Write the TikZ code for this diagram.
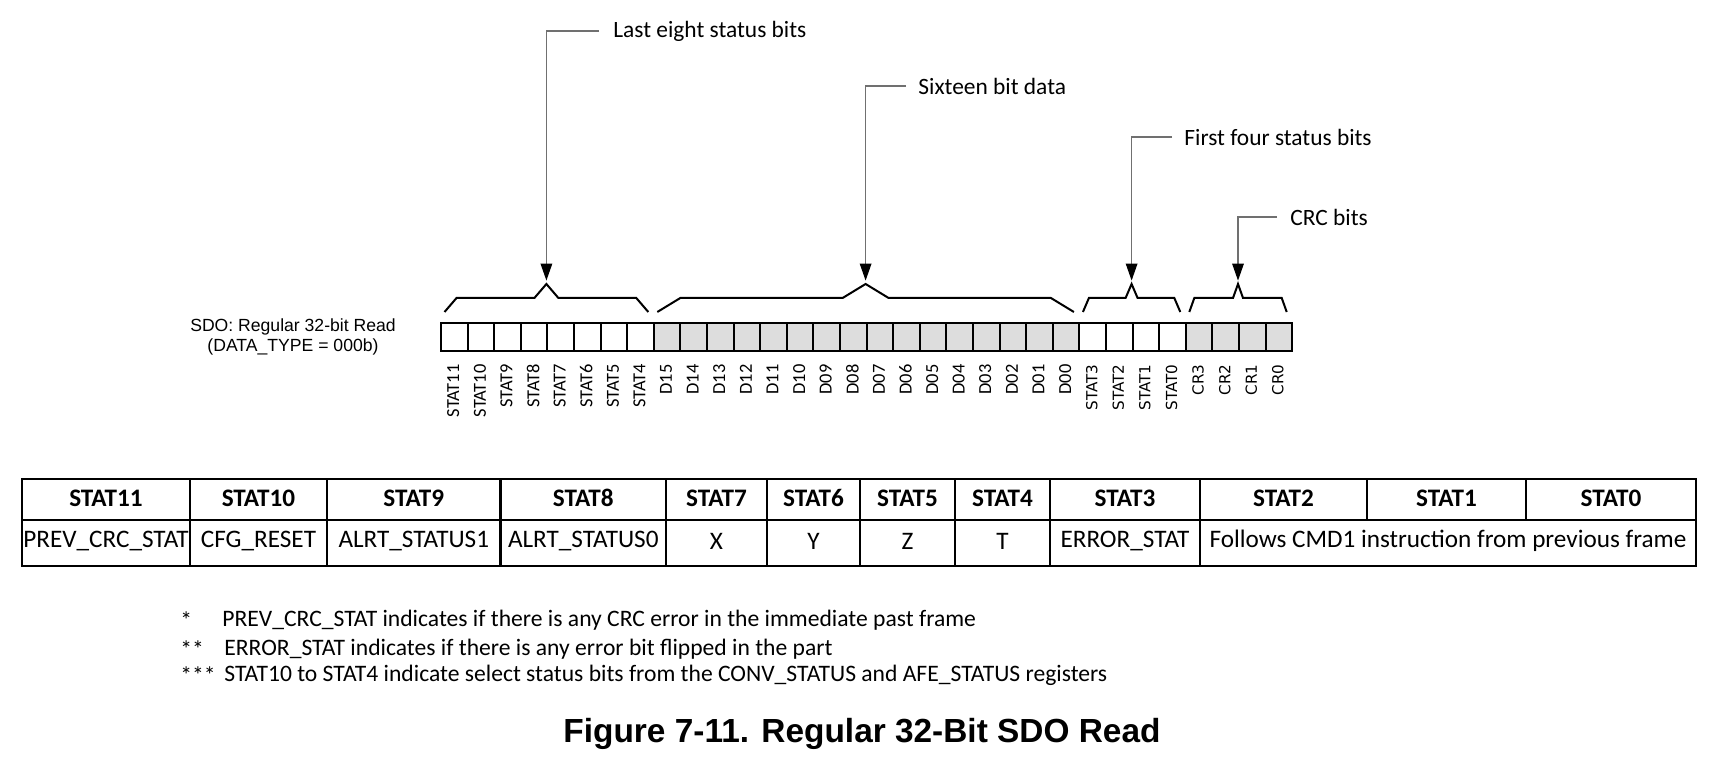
\documentclass[tikz,border=0pt]{standalone}
\usepackage{fontspec}
\setmainfont{Carlito}
\newfontfamily\arialfont{Liberation Sans}
\newfontfamily\dejafont{DejaVu Sans}
\usetikzlibrary{arrows.meta}
\usetikzlibrary{calc}

\definecolor{bitgray}{HTML}{DDDDDD}
\definecolor{leadgray}{HTML}{707070}

\tikzset{
  bitcell/.style={draw=black, line width=1pt, minimum width=13.3pt, minimum height=13.9pt, inner sep=0pt, anchor=north west},
  bitlbl/.style={rotate=90, anchor=east, inner sep=0pt, font=\fontsize{9.2}{10}\selectfont},
  bracepath/.style={draw=black, line width=1pt},
  leader/.style={draw=leadgray, line width=0.6pt, -{Triangle[length=8.5pt, width=5.8pt, black]}},
  leadtxt/.style={anchor=west, inner sep=0pt, font=\fontsize{11.7}{14}\selectfont},
  tabcell/.style={draw=black, line width=1.2pt},
  tabtxt/.style={inner sep=0pt, font=\fontsize{12.6}{14}\selectfont},
  notetxt/.style={anchor=west, inner sep=0pt, font=\fontsize{11.8}{14}\selectfont}
}

% bracket over a group of bits: left x, right x, slant, name of the peak
\newcommand{\grpbrace}[4]{%
  \draw[bracepath] (#1+4.5,312) -- (#1+4.5+#3,298) -- ({(#1+#2)/2-#3},298)
    -- ({(#1+#2)/2},284) coordinate (#4) -- ({(#1+#2)/2+#3},298)
    -- (#2-4.5-#3,298) -- (#2-4.5,312);
}

\begin{document}
\begin{tikzpicture}[x=0.5pt, y=-0.5pt]
  \useasboundingbox (0,0) rectangle (1732,763);

  % the 32 bits
  \foreach \t [count=\i from 0] in {STAT11,STAT10,STAT9,STAT8,STAT7,STAT6,STAT5,STAT4,
      D15,D14,D13,D12,D11,D10,D09,D08,D07,D06,D05,D04,D03,D02,D01,D00,
      STAT3,STAT2,STAT1,STAT0,CR3,CR2,CR1,CR0}{
    \pgfmathsetmacro{\shade}{(\i>7 && \i<24) || \i>27 ? 1 : 0}
    \ifdim\shade pt>0.5pt
      \node[bitcell, fill=bitgray] (c\i) at (440+\i*26.6,322) {};
    \else
      \node[bitcell, fill=white] (c\i) at (440+\i*26.6,322) {};
    \fi
    \ifnum\i<24
      \node[bitlbl] (l\i) at (453.3+\i*26.6,364) {\t};
    \else
      \node[bitlbl, font=\dejafont\fontsize{7.6}{9}\selectfont] (l\i) at (453.3+\i*26.6,364) {\t};
    \fi
  }

  \node[align=center, font=\arialfont\fontsize{8.8}{10}\selectfont] (sdo) at (293,337)
    {SDO: Regular 32-bit Read\\(DATA\_TYPE = 000b)};

  % brackets and their captions
  \grpbrace{440}{652.8}{12}{pk1}
  \grpbrace{652.8}{1078.4}{23}{pk2}
  \grpbrace{1078.4}{1184.8}{6}{pk3}
  \grpbrace{1184.8}{1291.2}{5}{pk4}

  \node[leadtxt] (t1) at (613,31) {Last eight status bits};
  \node[leadtxt] (t2) at (918,86) {Sixteen bit data};
  \node[leadtxt] (t3) at (1184,137) {First four status bits};
  \node[leadtxt] (t4) at (1290,217) {CRC bits};

  \draw[leader] ([xshift=-7pt]t1.west) -| ([yshift=1.7pt]pk1);
  \draw[leader] ([xshift=-6pt]t2.west) -| ([yshift=1.7pt]pk2);
  \draw[leader] ([xshift=-6pt]t3.west) -| ([yshift=1.7pt]pk3);
  \draw[leader] ([xshift=-6.5pt]t4.west) -| ([yshift=1.7pt]pk4);

  % table
  \foreach \l/\r/\h/\b [count=\k] in {22/190/STAT11/PREV\_CRC\_STAT, 190/327/STAT10/CFG\_RESET,
      327/500.6/STAT9/ALRT\_STATUS1, 500.6/666/STAT8/ALRT\_STATUS0, 666/767/STAT7/X,
      767/860/STAT6/Y, 860/955/STAT5/Z, 955/1050/STAT4/T, 1050/1200/STAT3/ERROR\_STAT}{
    \draw[tabcell] (\l,479) rectangle (\r,520);
    \draw[tabcell] (\l,520) rectangle (\r,566);
    \node[tabtxt, font=\fontsize{12.6}{14}\selectfont\bfseries] (h\k) at ({(\l+\r)/2},498) {\h};
    \node[tabtxt] (b\k) at ({(\l+\r)/2},541) {\b};
  }
  \foreach \l/\r/\h [count=\k from 10] in {1200/1367/STAT2, 1367/1526/STAT1, 1526/1696/STAT0}{
    \draw[tabcell] (\l,479) rectangle (\r,520);
    \node[tabtxt, font=\fontsize{12.6}{14}\selectfont\bfseries] (h\k) at ({(\l+\r)/2},498) {\h};
  }
  \draw[tabcell] (1200,520) rectangle (1696,566);
  \node[tabtxt] (b10) at (1448,541) {Follows CMD1 instruction from previous frame};

  % notes
  \node[notetxt] (s1) at (180,620) {*};
  \node[notetxt] (n1) at (222,620) {PREV\_CRC\_STAT indicates if there is any CRC error in the immediate past frame};
  \node[notetxt] (s2) at (180,649) {**};
  \node[notetxt] (n2) at (224,649) {ERROR\_STAT indicates if there is any error bit flipped in the part};
  \node[notetxt] (s3) at (180,675) {***};
  \node[notetxt] (n3) at (224,675) {STAT10 to STAT4 indicate select status bits from the CONV\_STATUS and AFE\_STATUS registers};

  \node[font=\arialfont\bfseries\fontsize{16.7}{20}\selectfont] (cap) at (862,734) {Figure 7-11. Regular 32-Bit SDO Read};
\end{tikzpicture}
\end{document}
